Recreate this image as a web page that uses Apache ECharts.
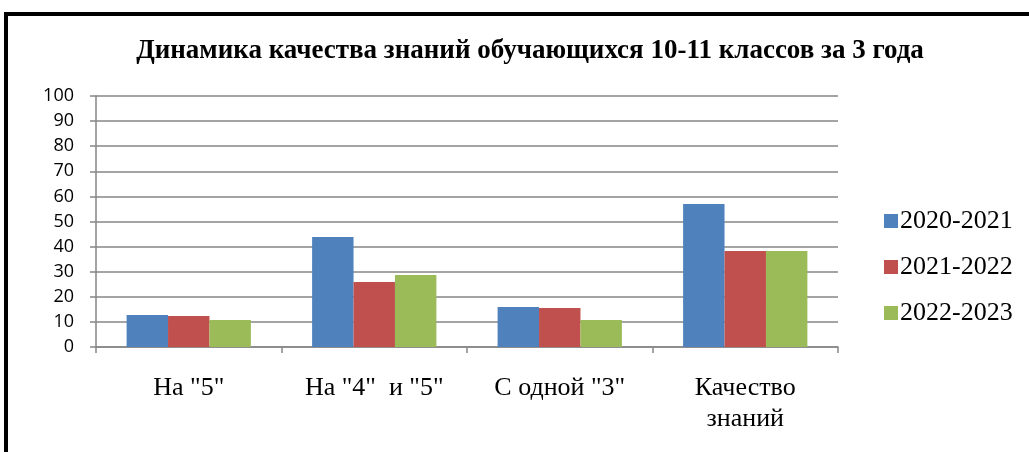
<!DOCTYPE html>
<html>
<head>
<meta charset="utf-8">
<script src="https://cdn.jsdelivr.net/npm/echarts@6/dist/echarts.min.js"></script>
<style>
  html, body { margin: 0; padding: 0; background: #fff; }
  #frame {
    position: absolute; left: 4px; top: 12px; width: 1040px; height: 460px;
    border: 4px solid #000; box-sizing: border-box;
  }
  #chart { position: absolute; left: 0; top: 0; width: 1029px; height: 452px; }
</style>
</head>
<body>
<div id="frame"></div>
<div id="chart"></div>
<script>
const categories = ['На "5"', 'На "4"  и "5"', 'С одной "3"', 'Качество\nзнаний'];
const seriesNames = ['2020-2021', '2021-2022', '2022-2023'];
const values2020 = [12.7, 43.8, 15.9, 57.0];
const values2021 = [12.4, 25.9, 15.5, 38.2];
const values2022 = [10.8, 28.7, 10.8, 38.2];
const colors = ['#4F81BD', '#C0504D', '#9BBB59'];

const chart = echarts.init(document.getElementById('chart'));
const allValues = [values2020, values2021, values2022];

chart.setOption({
  animation: false,
  title: {
    text: 'Динамика качества знаний обучающихся 10-11 классов за 3 года',
    left: 525, top: 33, textAlign: 'center',
    textStyle: { fontFamily: 'Liberation Serif', fontWeight: 'bold', fontSize: 27, color: '#000' }
  },
  legend: {
    orient: 'vertical', left: 879, top: 203,
    itemWidth: 14, itemHeight: 14, itemGap: 20,
    icon: 'rect',
    textStyle: { fontFamily: 'Liberation Serif', fontSize: 26, color: '#000', padding: [0, 0, 0, -3] },
    data: seriesNames
  },
  grid: { left: 96, right: 191, top: 96, bottom: 105, containLabel: false },
  xAxis: {
    type: 'category',
    data: categories,
    axisLine: { lineStyle: { color: '#868686', width: 1.5 } },
    axisTick: { show: true, length: 6, lineStyle: { color: '#868686', width: 1.5 } },
    axisLabel: {
      margin: 26, fontFamily: 'Liberation Serif', fontSize: 26, color: '#000', lineHeight: 31
    }
  },
  yAxis: {
    type: 'value', min: 0, max: 100, interval: 10,
    axisLine: { show: true, lineStyle: { color: '#868686', width: 1.5 } },
    axisTick: { show: true, length: 6, lineStyle: { color: '#868686', width: 1.5 } },
    splitLine: { lineStyle: { color: '#868686', width: 1.5 } },
    axisLabel: { margin: 22, fontFamily: 'Open Sans', fontSize: 18, color: '#000' }
  },
  series: seriesNames.map((name, i) => ({
    name: name,
    type: 'bar',
    data: allValues[i],
    barGap: '0%',
    barCategoryGap: '33%',
    itemStyle: { color: colors[i] }
  }))
});
</script>
</body>
</html>
